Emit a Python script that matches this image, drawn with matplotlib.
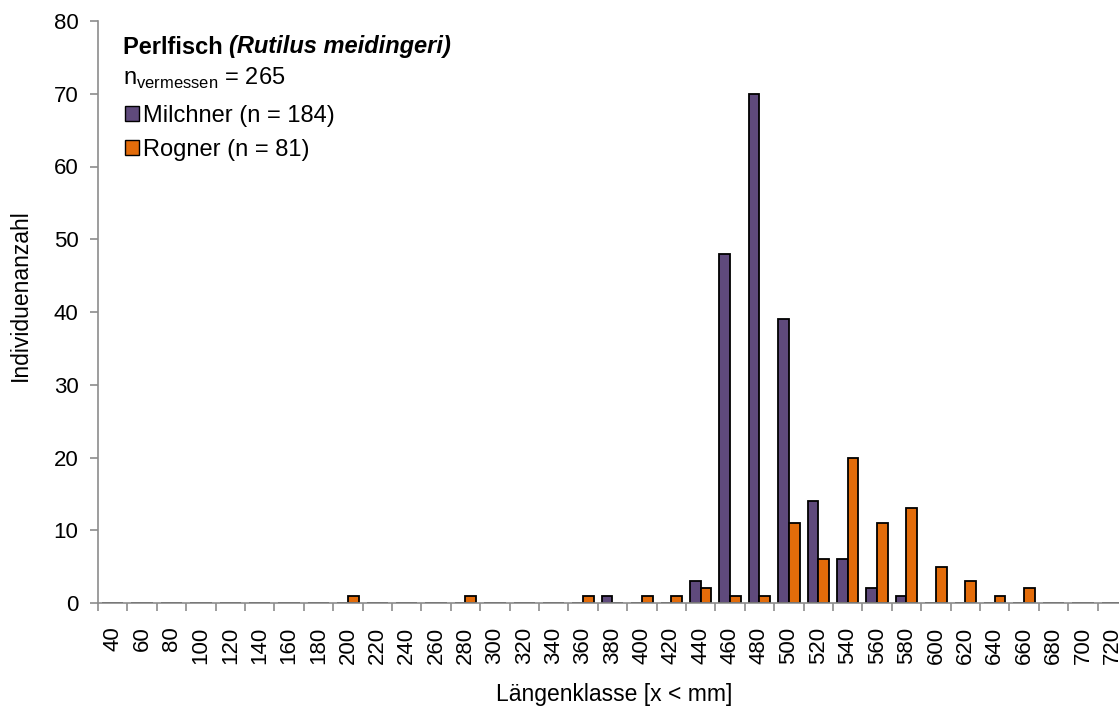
import numpy as np
import matplotlib.pyplot as plt
from matplotlib.patches import Patch

plt.rcParams['font.family'] = ['Liberation Sans', 'DejaVu Sans']
plt.rcParams['mathtext.fontset'] = 'custom'
plt.rcParams['mathtext.rm'] = 'Liberation Sans'

klassen = list(range(40, 721, 20))
milchner_werte = {380: 1, 440: 3, 460: 48, 480: 70, 500: 39, 520: 14, 540: 6, 560: 2, 580: 1}
rogner_werte = {200: 1, 280: 1, 360: 1, 400: 1, 420: 1, 440: 2, 460: 1, 480: 1, 500: 11,
                520: 6, 540: 20, 560: 11, 580: 13, 600: 5, 620: 3, 640: 1, 660: 2}
milchner = [milchner_werte.get(k, 0) for k in klassen]
rogner = [rogner_werte.get(k, 0) for k in klassen]

lila = '#5F4A7C'
orange = '#E36C0A'
grau = '#8C8C8C'
fs = 17

W, H = 1119, 708
fig = plt.figure(figsize=(W / 100, H / 100), dpi=100)
ax = fig.add_axes([98 / W, 1 - 603 / H, 1029 / W, 582 / H])

x = np.arange(len(klassen))
b = 0.365
ax.bar(x - b/2, milchner, b, color=lila, edgecolor='black', linewidth=1.3)
ax.bar(x + b/2, rogner, b, color=orange, edgecolor='black', linewidth=1.3)

ax.set_xlim(-0.5, len(klassen) - 0.5)
ax.set_ylim(0, 80)
ax.set_yticks(range(0, 81, 10))
ax.set_xticks(x)
ax.set_xticklabels([str(k) for k in klassen], rotation=90, fontsize=16)
ax.set_xticks(np.arange(len(klassen) + 1) - 0.5, minor=True)
ax.tick_params(axis='x', which='major', length=0, pad=17)
ax.tick_params(axis='x', which='minor', length=6, color=grau, width=1.2)
ax.tick_params(axis='y', labelsize=16, length=6, color=grau, width=1.2, pad=8)
for s in ['top', 'right']:
    ax.spines[s].set_visible(False)
for s in ['left', 'bottom']:
    ax.spines[s].set_color(grau)
    ax.spines[s].set_linewidth(1.2)

fig.text(20 / W, 1 - 295 / H, 'Individuenanzahl', fontsize=16.5, rotation=90,
         ha='center', va='center')
fig.text(614 / W, 1 - 694 / H, 'Längenklasse [x < mm]', fontsize=16.5,
         ha='center', va='center')

t1 = fig.text(123 / W, 1 - 47 / H, 'Perlfisch ', fontsize=fs, fontweight='bold', va='center')
fig.canvas.draw()
bb = t1.get_window_extent()
fig.text(bb.x1 / W, 1 - 47 / H, '(Rutilus meidingeri)', fontsize=fs, fontweight='bold',
         style='italic', va='center')
fig.text(123 / W, 1 - 78 / H, r'n$_{\mathrm{vermessen}}$ = 265', fontsize=fs, va='center')

handles = [Patch(facecolor=lila, edgecolor='black', label='Milchner (n = 184)'),
           Patch(facecolor=orange, edgecolor='black', label='Rogner (n = 81)')]
fig.legend(handles=handles, loc='upper left', bbox_to_anchor=(125 / W, 1 - 105 / H),
           frameon=False, fontsize=fs, handlelength=0.6, handleheight=0.6,
           handletextpad=0.15, labelspacing=0.5, borderaxespad=0, borderpad=0)

fig.savefig('out.png', dpi=100)
